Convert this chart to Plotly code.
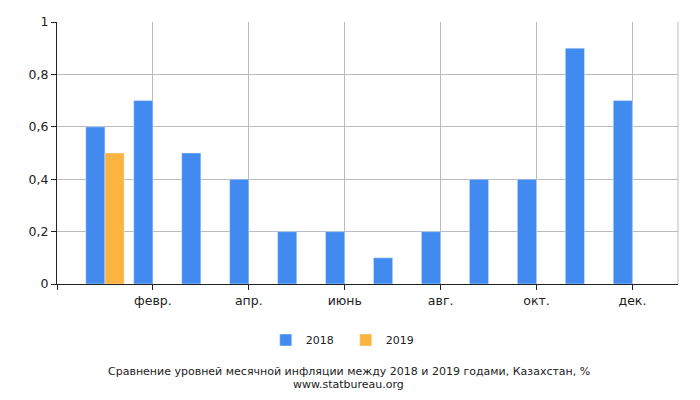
import plotly.graph_objects as go

months = ["янв.", "февр.", "март", "апр.", "май", "июнь",
          "июль", "авг.", "сент.", "окт.", "нояб.", "дек."]
infl_2018 = [0.6, 0.7, 0.5, 0.4, 0.2, 0.2, 0.1, 0.2, 0.4, 0.4, 0.9, 0.7]
infl_2019 = [0.5, None, None, None, None, None, None, None, None, None, None, None]
tick_pos = [-1, 1, 3, 5, 7, 9, 11]
tick_text = ["", "февр.", "апр.", "июнь", "авг.", "окт.", "дек."]
y_ticks = [0, 0.2, 0.4, 0.6, 0.8, 1]

# page body has an 8px margin, so the figure is shifted by 8px
W, H = 692, 392
L, R, T, B = 49, 22, 14, 116
plot_h = H - T - B


def page_y(py):
    # pixel y in the window -> paper fraction
    return 1 - (py - 8 - T) / plot_h


fig = go.Figure()
fig.add_trace(go.Bar(x=months, y=infl_2018, name="2018", marker_color="#418BF0"))
fig.add_trace(go.Bar(x=months, y=infl_2019, name="2019", marker_color="#FCB441"))

fig.update_layout(
    width=W, height=H,
    margin=dict(l=L, r=R, t=T, b=B, autoexpand=False),
    barmode="group", bargap=0.2, bargroupgap=0,
    separators=", ",
    plot_bgcolor="white", paper_bgcolor="white",
    font=dict(family="DejaVu Sans", size=11, color="#222"),
    showlegend=True,
    legend=dict(orientation="h", x=0.465, xanchor="center", y=page_y(340), yanchor="middle",
                font=dict(size=11), itemwidth=30, entrywidth=35, entrywidthmode="pixels"),
)
fig.add_annotation(text="Сравнение уровней месячной инфляции между 2018 и 2019 годами, Казахстан, %",
                   x=0.47, xref="paper", y=page_y(371), yref="paper",
                   showarrow=False, font=dict(size=11), yanchor="middle")
fig.add_annotation(text="www.statbureau.org",
                   x=0.47, xref="paper", y=page_y(384), yref="paper",
                   showarrow=False, font=dict(size=11), yanchor="middle")

fig.update_xaxes(
    range=[-1, 11.95],
    tickmode="array", tickvals=tick_pos, ticktext=tick_text,
    showgrid=True, gridcolor="#BBBBBB", gridwidth=1,
    showline=True, linecolor="#222", linewidth=1,
    ticks="outside", ticklen=5, tickcolor="#222",
    tickfont=dict(size=12.5),
)
fig.update_yaxes(
    range=[0, 1],
    tickmode="array", tickvals=y_ticks,
    tickformat=".1~f",
    showgrid=True, gridcolor="#BBBBBB", gridwidth=1,
    showline=True, linecolor="#222", linewidth=1,
    ticks="outside", ticklen=5, tickcolor="#222",
    tickfont=dict(size=12.5),
    zeroline=False,
)
# right border
fig.add_shape(type="line", xref="paper", yref="paper", x0=1, x1=1, y0=0, y1=1,
              line=dict(color="#BBBBBB", width=1))

fig.write_html("out.html")
